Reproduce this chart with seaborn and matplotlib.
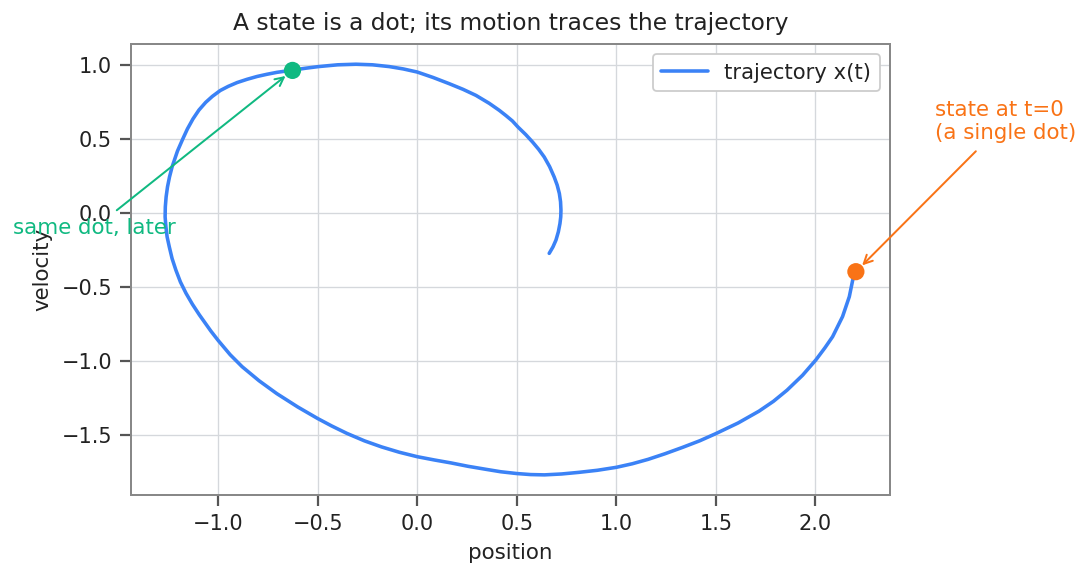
import matplotlib
matplotlib.use("Agg")
import matplotlib.pyplot as plt
import pandas as pd
import seaborn as sns

# phase-space trajectory (position, velocity), from t=0 onward
position = [2.204, 2.188, 2.171, 2.137, 2.087, 2.048, 2.003, 1.936, 1.858, 1.790,
            1.717, 1.612, 1.500, 1.420, 1.333, 1.245, 1.160, 1.080, 1.000, 0.905,
            0.812, 0.725, 0.639, 0.570, 0.500, 0.420, 0.343, 0.255, 0.169, 0.085,
            0.000, -0.090, -0.179, -0.265, -0.354, -0.430, -0.500, -0.600, -0.706, -0.795,
            -0.880, -0.940, -1.000, -1.037, -1.095, -1.130, -1.162, -1.190, -1.213, -1.232,
            -1.246, -1.257, -1.263, -1.267, -1.266, -1.262, -1.255, -1.245, -1.232, -1.205,
            -1.179, -1.155, -1.127, -1.097, -1.063, -1.030, -0.990, -0.950, -0.905, -0.855,
            -0.805, -0.755, -0.705, -0.627, -0.560, -0.496, -0.400, -0.308, -0.225, -0.141,
            -0.070, 0.000, 0.080, 0.161, 0.230, 0.295, 0.362, 0.412, 0.446, 0.478,
            0.506, 0.545, 0.579, 0.610, 0.638, 0.665, 0.688, 0.703, 0.714, 0.720,
            0.722, 0.721, 0.717, 0.709, 0.697, 0.682, 0.663]
velocity = [-0.396, -0.453, -0.565, -0.700, -0.836, -0.912, -0.993, -1.097, -1.198, -1.273,
            -1.340, -1.420, -1.492, -1.540, -1.585, -1.628, -1.666, -1.696, -1.720, -1.740,
            -1.754, -1.765, -1.771, -1.769, -1.762, -1.750, -1.733, -1.713, -1.690, -1.670,
            -1.648, -1.618, -1.582, -1.541, -1.490, -1.440, -1.390, -1.312, -1.221, -1.134,
            -1.039, -0.958, -0.862, -0.798, -0.688, -0.616, -0.542, -0.466, -0.385, -0.307,
            -0.228, -0.160, -0.093, -0.025, 0.043, 0.110, 0.178, 0.245, 0.313, 0.420,
            0.500, 0.570, 0.638, 0.698, 0.750, 0.790, 0.830, 0.858, 0.884, 0.906,
            0.925, 0.940, 0.953, 0.968, 0.981, 0.992, 1.004, 1.008, 1.004, 0.992,
            0.976, 0.955, 0.918, 0.876, 0.838, 0.797, 0.743, 0.696, 0.660, 0.624,
            0.583, 0.532, 0.482, 0.432, 0.380, 0.315, 0.245, 0.190, 0.133, 0.077,
            0.020, -0.025, -0.070, -0.126, -0.182, -0.228, -0.272]

start_state = (2.204, -0.396)
later_state = (-0.627, 0.966)

BLUE = "#3b82f6"
ORANGE = "#f97316"
GREEN = "#10b981"

sns.set_theme(context="paper", style="ticks", rc={
    "axes.edgecolor": "#888888",
    "axes.linewidth": 0.9,
    "axes.grid": True,
    "grid.color": "#d5d8dc",
    "grid.linewidth": 0.6,
    "xtick.color": "#555555",
    "ytick.color": "#555555",
    "xtick.labelcolor": "#222222",
    "ytick.labelcolor": "#222222",
    "text.color": "#222222",
    "axes.labelcolor": "#222222",
    "axes.titlesize": 10.5,
    "axes.labelsize": 9.6,
    "xtick.labelsize": 9.4,
    "ytick.labelsize": 9.4,
    "legend.fontsize": 9.5,
})
plt.rcParams["font.family"] = ["DejaVu Sans"]

traj = pd.DataFrame({"position": position, "velocity": velocity})

fig, ax = plt.subplots(figsize=(1090 / 160, 571 / 160), dpi=160)
fig.subplots_adjust(left=0.1198, right=0.8169, bottom=0.1324, top=0.9235)

sns.lineplot(data=traj, x="position", y="velocity", sort=False, estimator=None,
             color=BLUE, linewidth=1.6, label="trajectory x(t)", ax=ax)
sns.scatterplot(x=[start_state[0]], y=[start_state[1]], color=ORANGE, s=60,
                edgecolor="none", zorder=5, legend=False, ax=ax)
sns.scatterplot(x=[later_state[0]], y=[later_state[1]], color=GREEN, s=60,
                edgecolor="none", zorder=5, legend=False, ax=ax)

ax.annotate("state at t=0\n(a single dot)", xy=start_state, xytext=(2.6, 0.5),
            color=ORANGE, fontsize=9.6, annotation_clip=False,
            arrowprops=dict(arrowstyle="->", color=ORANGE, lw=0.9, shrinkB=4))
ax.annotate("same dot, later", xy=later_state, xytext=(-2.03, -0.14),
            color=GREEN, fontsize=9.6, annotation_clip=False,
            arrowprops=dict(arrowstyle="->", color=GREEN, lw=0.9, shrinkB=4))

ax.set_title("A state is a dot; its motion traces the trajectory")
ax.set_xlabel("position")
ax.set_ylabel("velocity")
leg = ax.legend(loc="upper right", frameon=True, fancybox=True, edgecolor="#cccccc",
                framealpha=1.0, handlelength=2.2)
leg.get_frame().set_linewidth(0.8)

fig.savefig("out.png", dpi=160)
